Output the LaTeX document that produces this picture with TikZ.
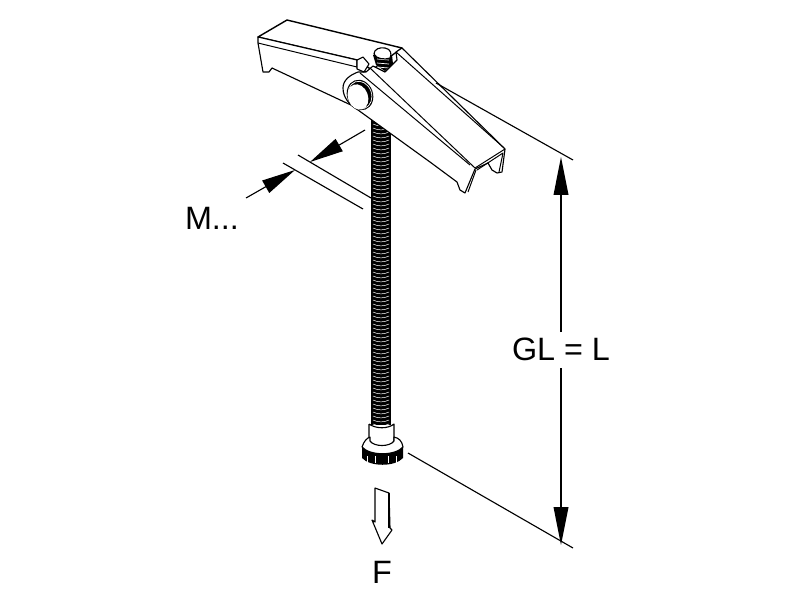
\documentclass[tikz,border=0pt]{standalone}
\usepackage{fontspec}
\setmainfont{Liberation Sans}
\usetikzlibrary{arrows.meta}
\tikzset{
  part/.style={draw=black, line width=0.8pt, line join=round, fill=white},
  edge/.style={draw=black, line width=0.7pt, line join=round},
  dimline/.style={draw=black, line width=0.8pt},
  bigtip/.style={-{Triangle[length=27pt,width=10.5pt]}},
  smalltip/.style={{Triangle[length=24pt,width=10pt]}-},
  label/.style={font=\fontsize{23}{23}\selectfont, inner sep=1pt}
}
\begin{document}
\begin{tikzpicture}[x=0.025cm, y=-0.025cm]
  \useasboundingbox (0, 0) rectangle (800, 600);

  % threaded rod
  \fill [black] (371, 100) rectangle (391, 425);
  \foreach \ypos in {100, 104, ..., 424} {
    \draw [white, line width=0.35pt] (373, \ypos) .. controls (378, \ypos+2.5) and (384, \ypos+2.5) .. (389, \ypos);
  }

  % washer and knurled head
  \draw [part] (369, 424) -- (369, 446) -- (394, 446) -- (394, 424) .. controls (388, 429) and (376, 429) .. (369, 424);
  \fill [black] (362, 447) -- (362, 458) .. controls (370, 467) and (395, 467) .. (403, 458) -- (403, 447) .. controls (395, 455) and (370, 455) .. (362, 447);
  \draw [part] (362, 447) .. controls (364, 441) and (367, 438) .. (370, 437) -- (370, 441) .. controls (374, 447) and (390, 447) .. (394, 441) -- (394, 437) .. controls (399, 438) and (402, 441) .. (403, 447) .. controls (395, 456) and (370, 456) .. (362, 447);
  \foreach \xpos in {367, 375, 388, 396} {
    \draw [white, line width=0.5pt] (\xpos, 456) -- (\xpos, 463);
  }

  % rear wing of the toggle
  \draw [part, line width=1pt] (258, 37) -- (287, 20) -- (402, 48) -- (372, 70) -- (357, 60) -- cycle;
  \draw [part] (258, 37) -- (258, 43) -- (263, 72) -- (269, 72) -- (272, 68) -- (353, 106) -- (366, 72) -- (357, 67) -- (357, 60) -- cycle;
  \draw [edge] (258, 43) -- (357, 67);

  % spring and pin
  \fill [black] (373, 55) -- (392, 55) -- (393, 64) -- (385, 71) -- (376, 65) -- cycle;
  \foreach \ypos in {59, 63, 67} {
    \draw [white, line width=0.5pt] (377, \ypos) -- (389, \ypos+1);
  }
  \draw [part] (374, 54) .. controls (374, 49) and (380, 47) .. (385, 48) .. controls (391, 49) and (392, 54) .. (390, 58) .. controls (385, 60) and (376, 59) .. (374, 54) -- cycle;

  % front wing of the toggle
  \draw [part] (358, 72) .. controls (350, 75) and (343, 80) .. (343, 88) .. controls (343, 97) and (349, 105) .. (358, 110) -- (430, 162) -- (457, 182) -- (460, 190) -- (465, 193) -- (475, 169) -- (488, 163) -- (492, 170) -- (497, 173) -- (502, 172) -- (505, 149) -- (402, 48) -- (396, 52) -- (397, 60) -- (385, 72) -- (373, 66) -- (366, 72) -- cycle;
  \draw [edge] (370, 68) -- (475, 168) -- (505, 149);
  \draw [edge] (360, 73) -- (470, 165);
  \draw [edge] (477, 170) -- (503, 153) -- (499, 172);
  \draw [edge] (468, 192) -- (476, 170);
  \draw [edge] (396, 52) -- (503, 147);

  % small cap between the wings
  \draw [part] (357, 60) -- (363, 57) -- (369, 64) -- (364, 72) -- (357, 69) -- cycle;

  % eye of the pin
  \fill [black] (360, 95) ellipse [x radius=13, y radius=15.5, rotate=20];
  \fill [white] (358, 97) ellipse [x radius=10, y radius=13, rotate=20];
  \draw [white, line width=0.5pt] (360, 95) ellipse [x radius=11.6, y radius=14, rotate=20];

  % size of the thread
  \coordinate (Mtop) at (298, 155);
  \coordinate (Mtopend) at (371, 198);
  \coordinate (Mbot) at (283, 163);
  \coordinate (Mbotend) at (363, 209);
  \coordinate (Marrowin) at (246, 198);
  \coordinate (Marrowout) at (365, 130);
  \draw [dimline] (Mtop) -- (Mtopend);
  \draw [dimline] (Mbot) -- (Mbotend);
  \draw [dimline, smalltip] (295, 170) -- (Marrowin);
  \draw [dimline, smalltip] (310, 162) -- (Marrowout);

  % overall length
  \coordinate (GLtopext) at (436, 83);
  \coordinate (GLtopend) at (573, 160);
  \coordinate (GLbotext) at (408, 453);
  \coordinate (GLbotend) at (573, 548);
  \draw [dimline] (GLtopext) -- (GLtopend);
  \draw [dimline] (GLbotext) -- (GLbotend);
  \node [label] (GLlabel) at (561, 349) {GL = L};
  \coordinate (GLtop) at (561, 157);
  \coordinate (GLbot) at (561, 545);
  \draw [dimline, bigtip] (561, 332) -- (GLtop);
  \draw [dimline, bigtip] (561, 368) -- (GLbot);
  \node [label] (Mlabel) at (212, 218) {M...};

  % load
  \draw [part] (375, 488) -- (389, 493) -- (390, 528) -- (392, 530) -- (382, 544) -- (372, 520) -- (375, 522) -- cycle;
  \draw [edge, line width=1.2pt] (389, 493) -- (389, 528);
  \node [label] (Flabel) at (382, 572) {F};
\end{tikzpicture}
\end{document}
